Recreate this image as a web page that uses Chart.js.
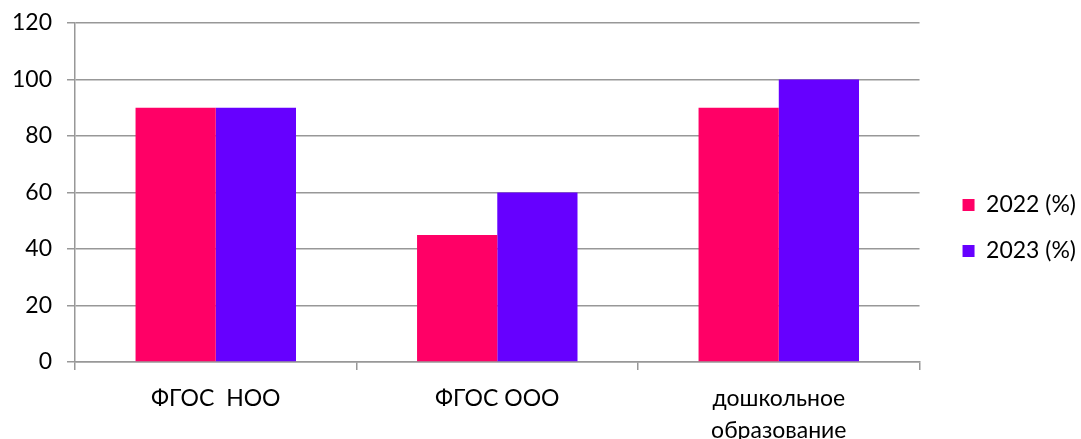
<!DOCTYPE html>
<html>
<head>
<meta charset="utf-8">
<script src="https://cdn.jsdelivr.net/npm/chart.js@4/dist/chart.umd.min.js"></script>
<style>
  html, body { margin: 0; padding: 0; background: #fff; }
  #wrap { width: 1081px; height: 439px; }
</style>
</head>
<body>
<div id="wrap"><canvas id="grafico"></canvas></div>
<script>
// Datos
const categorias = ["ФГОС  НОО", "ФГОС ООО", ["дошкольное", "образование"]];
const valores2022 = [90, 45, 90];
const valores2023 = [90, 60, 100];
const etiquetasSeries = ["2022 (%)", "2023 (%)"];

const colorGris = "#989898";
const fuente = "Lato, 'Open Sans', sans-serif";

const ctx = document.querySelector("#grafico").getContext("2d");

new Chart(ctx, {
  type: "bar",
  data: {
    labels: categorias,
    datasets: [
      {
        label: etiquetasSeries[0],
        data: valores2022,
        backgroundColor: "#ff0066",
        borderWidth: 0,
      },
      {
        label: etiquetasSeries[1],
        data: valores2023,
        backgroundColor: "#6600ff",
        borderWidth: 0,
      },
    ],
  },
  options: {
    responsive: true,
    maintainAspectRatio: false,
    animation: false,
    layout: { padding: { top: 0, right: -5, left: -3, bottom: 0 } },
    datasets: {
      bar: { categoryPercentage: 0.57, barPercentage: 1.0 },
    },
    scales: {
      x: {
        grid: {
          offset: true,
          drawOnChartArea: false,
          drawTicks: true,
          tickLength: 8,
          color: colorGris,
          lineWidth: 1.5,
        },
        border: { color: colorGris, width: 1.5 },
        ticks: {
          color: "#000",
          padding: 12,
          font: { family: fuente, size: 23, lineHeight: 1.4 },
        },
        // la segunda línea de "образование" queda pegada al borde inferior
        afterFit: (escala) => {
          escala.height = 77;
        },
      },
      y: {
        min: 0,
        max: 120,
        ticks: {
          stepSize: 20,
          color: "#000",
          padding: 15,
          font: { family: fuente, size: 23 },
        },
        grid: {
          color: colorGris,
          lineWidth: 1.5,
          tickLength: 8,
        },
        border: { color: colorGris, width: 1.5 },
        // el margen de la etiqueta superior no debe sumar el padding de los ticks
        afterFit: (escala) => {
          escala.paddingTop = 23;
          escala.paddingBottom = 0;
        },
      },
      // eje vacío: solo separa el área del gráfico de la leyenda
      hueco: {
        position: "right",
        display: true,
        grid: { display: false },
        border: { display: false },
        ticks: { display: false },
        afterFit: (escala) => {
          escala.width = 20;
          escala.paddingTop = 0;
          escala.paddingBottom = 0;
        },
      },
    },
    plugins: {
      legend: {
        display: true,
        position: "right",
        // título vacío: baja un poco las entradas de la leyenda
        title: {
          display: true,
          text: " ",
          font: { size: 10 },
          padding: { top: 3, bottom: 2 },
        },
        labels: {
          boxWidth: 12,
          boxHeight: 12,
          padding: 23,
          color: "#000",
          font: { family: fuente, size: 23 },
        },
      },
      tooltip: { enabled: false },
    },
  },
});
</script>
</body>
</html>
